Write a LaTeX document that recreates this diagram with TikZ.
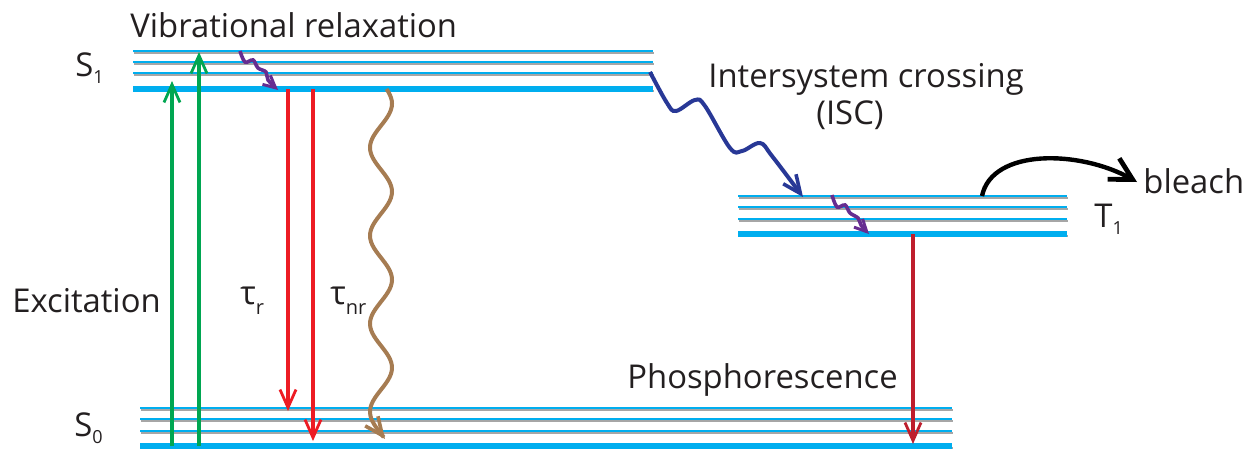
\documentclass[tikz,border=0pt]{standalone}
\usepackage{fontspec}
\setmainfont{Open Sans}
\usetikzlibrary{arrows.meta}
\definecolor{lvl}{RGB}{0,174,239}
\definecolor{grn}{RGB}{0,166,81}
\definecolor{rd}{RGB}{237,28,36}
\definecolor{drd}{RGB}{190,30,45}
\definecolor{brn}{RGB}{166,124,82}
\definecolor{prp}{RGB}{102,45,145}
\definecolor{blu}{RGB}{40,56,150}
\definecolor{txt}{RGB}{35,31,32}
\tikzset{
  thinlvl/.style={lvl, line width=1.1pt},
  thicklvl/.style={lvl, line width=2.6pt},
  shadow/.style={gray!70, line width=1pt},
  lbl/.style={anchor=base west, inner sep=0pt, text=txt, font=\fontsize{16.4pt}{18pt}\selectfont},
  barb/.style={-{Straight Barb[length=9pt,width=8pt,line width=1.4pt]}},
  wbarb/.style={-{Straight Barb[length=9pt,width=8pt,line width=1.8pt]}},
  sbarb/.style={-{Straight Barb[length=6pt,width=6pt,line width=1.5pt]}},
}
\newcommand{\sbs}[1]{\raisebox{-0.45ex}{\fontsize{9pt}{10pt}\selectfont #1}}
\newcommand{\tsb}[1]{\raisebox{-0.6ex}{\fontsize{10pt}{11pt}\selectfont #1}}
\newcommand{\lvlline}[4]{% x1 x2 y style
  \draw[shadow] (#1+0.6,#3+1.8) -- (#2+0.6,#3+1.8);
  \draw[#4] (#1,#3) -- (#2,#3);}
\begin{document}
\begin{tikzpicture}[x=0.5pt,y=-0.5pt]
\useasboundingbox (0,0) rectangle (1248,451);
% S1 levels
\lvlline{133}{653}{51}{thinlvl}
\lvlline{133}{653}{62}{thinlvl}
\lvlline{133}{653}{73}{thinlvl}
\lvlline{133}{653}{89}{thicklvl}
% T1 levels
\lvlline{738}{1067}{196}{thinlvl}
\lvlline{738}{1067}{207}{thinlvl}
\lvlline{738}{1067}{219}{thinlvl}
\lvlline{738}{1067}{234}{thicklvl}
% S0 levels
\lvlline{140}{952}{408}{thinlvl}
\lvlline{140}{952}{419}{thinlvl}
\lvlline{140}{952}{431}{thinlvl}
\lvlline{140}{952}{446}{thicklvl}
% coordinates
\coordinate (g1s) at (172,446); \coordinate (g1e) at (172,81);
\coordinate (g2s) at (199,446); \coordinate (g2e) at (199,52);
\coordinate (r1s) at (288,89); \coordinate (r1e) at (288,411);
\coordinate (r2s) at (313,89); \coordinate (r2e) at (313,441);
\coordinate (ps) at (913,234); \coordinate (pe) at (913,444);
\coordinate (bs) at (982,196); \coordinate (be) at (1137,182);
% excitation
\draw[grn, line width=1.6pt, barb] (g1s) -- (g1e);
\draw[grn, line width=1.6pt, barb] (g2s) -- (g2e);
% radiative
\draw[rd, line width=1.6pt, barb] (r1s) -- (r1e);
\draw[rd, line width=1.6pt, barb] (r2s) -- (r2e);
% phosphorescence
\draw[drd, line width=1.6pt, barb] (ps) -- (pe);
% nonradiative
\draw[brn, line width=2pt, wbarb] plot[smooth, domain=89:439, samples=120, variable=\t] ({381+11*sin((\t-89)*4.09+30)},{\t});
% vibrational relaxation squiggles
\draw[prp, line width=1.8pt, sbarb] plot[smooth, tension=0.6] coordinates {(240,51) (245,62) (253,60) (258,68) (266,72) (268,80) (278,90)};
\draw[prp, line width=1.8pt, sbarb] plot[smooth, tension=0.6] coordinates {(832,195) (837,207) (845,205) (850,213) (858,218) (861,225) (869,234)};
% ISC
\draw[blu, line width=2pt, wbarb] plot[smooth, tension=0.6] coordinates {(650,72) (667,103) (676,111) (695,100) (705,106) (730,148) (742,151) (760,143) (772,156) (803,197)};
% bleach
\draw[black, line width=2.2pt, -{Straight Barb[length=11pt,width=12pt,line width=2.4pt]}] (bs) .. controls (992,148) and (1080,150) .. (be);
% labels
\node[lbl] (vr) at (130,37) {Vibrational relaxation};
\node[lbl] (s1) at (75,76) {S\sbs{1}};
\node[lbl] (isc) at (708,87) {Intersystem crossing};
\node[lbl, anchor=base] (isc2) at (850,124) {(ISC)};
\node[lbl] (bl) at (1143,193) {bleach};
\node[lbl] (t1) at (1094,227) {T\sbs{1}};
\node[lbl] (ex) at (12,312) {Excitation};
\node[lbl] (tr) at (240,304) {τ\tsb{r}};
\node[lbl] (tnr) at (330,304) {τ\tsb{nr}};
\node[lbl] (ph) at (627,388) {Phosphorescence};
\node[lbl] (s0) at (74,436) {S\sbs{0}};
\end{tikzpicture}
\end{document}
